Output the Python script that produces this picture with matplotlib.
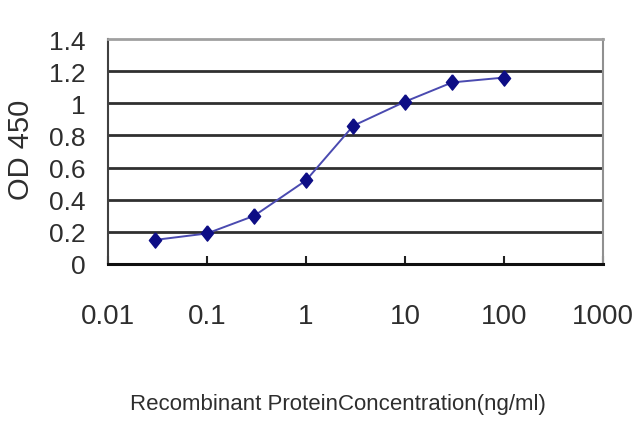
import matplotlib
matplotlib.use("Agg")
import matplotlib.pyplot as plt
from matplotlib.ticker import FixedLocator, FixedFormatter, NullLocator

plt.rcParams['font.family'] = ['Liberation Sans', 'DejaVu Sans']

# data
conc = [0.03, 0.1, 0.3, 1, 3, 10, 30, 100]
od450 = [0.15, 0.19, 0.30, 0.52, 0.86, 1.01, 1.13, 1.16]

x_ticks = [0.01, 0.1, 1, 10, 100, 1000]
x_labels = ['0.01', '0.1', '1', '10', '100', '1000']
y_ticks = [0, 0.2, 0.4, 0.6, 0.8, 1, 1.2, 1.4]
y_labels = ['0', '0.2', '0.4', '0.6', '0.8', '1', '1.2', '1.4']

txt = '#2e2e2e'
diamond = [(0, 1), (0.8, 0), (0, -1), (-0.8, 0), (0, 1)]

fig = plt.figure(figsize=(6.4, 4.27), dpi=100)
ax = fig.add_axes([108 / 640, 1 - 265 / 427, 495 / 640, 225 / 427])

ax.set_xscale('log')
ax.set_xlim(0.01, 1000)
ax.set_ylim(0, 1.4)

# horizontal grid
for v in y_ticks[1:-1]:
    ax.axhline(v, color='#303030', lw=2.0, zorder=1)

ax.plot(conc, od450, color='#4a4ab0', lw=1.4, zorder=3)
ax.plot(conc, od450, ls='none', marker=diamond, ms=11,
        color='#0d0d85', mec='#0d0d85', zorder=4)

ax.spines['top'].set_color('#a0a0a0')
ax.spines['top'].set_linewidth(2)
ax.spines['left'].set_color('#404040')
ax.spines['left'].set_linewidth(1.5)
ax.spines['right'].set_color('#909090')
ax.spines['right'].set_linewidth(1.5)
ax.spines['bottom'].set_color('#101010')
ax.spines['bottom'].set_linewidth(2.2)

ax.xaxis.set_major_locator(FixedLocator(x_ticks))
ax.xaxis.set_major_formatter(FixedFormatter(x_labels))
ax.xaxis.set_minor_locator(NullLocator())
ax.tick_params(axis='x', direction='in', length=6, width=1.5, color='#202020',
               pad=28, labelsize=20, labelcolor=txt)

ax.yaxis.set_major_locator(FixedLocator(y_ticks))
ax.yaxis.set_major_formatter(FixedFormatter(y_labels))
ax.tick_params(axis='y', length=0, pad=16, labelsize=19, labelcolor=txt)

fig.text(21 / 640, 1 - 150 / 427, 'OD 450', rotation=90, ha='center',
         va='center', fontsize=21, color=txt)
fig.text(338 / 640, 1 - 405 / 427, 'Recombinant ProteinConcentration(ng/ml)',
         ha='center', va='center', fontsize=16, color=txt)

fig.savefig('out.png', dpi=100)
